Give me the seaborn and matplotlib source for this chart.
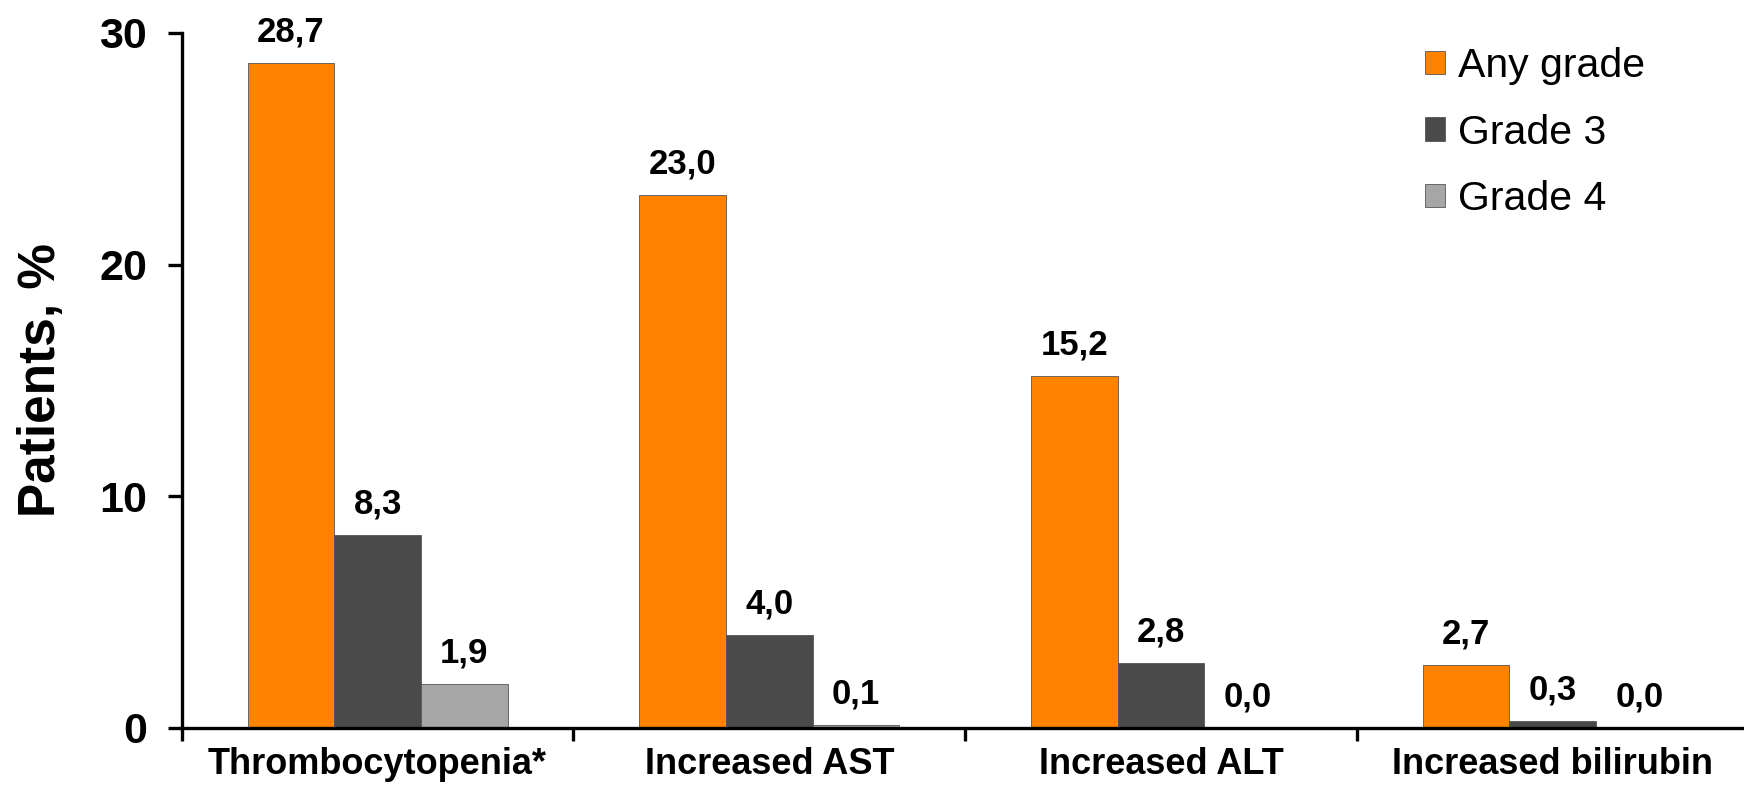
import matplotlib
matplotlib.use("Agg")
import matplotlib.pyplot as plt
import seaborn as sns
import pandas as pd
from matplotlib.ticker import FixedLocator

# Adverse events by grade
categories = ["Thrombocytopenia*", "Increased AST", "Increased ALT", "Increased bilirubin"]
grades = ["Any grade", "Grade 3", "Grade 4"]
any_grade = [28.7, 23.0, 15.2, 2.7]
grade_3 = [8.3, 4.0, 2.8, 0.3]
grade_4 = [1.9, 0.1, 0.0, 0.0]
yticks = [0, 10, 20, 30]

colors = ["#ff8300", "#4a4a4a", "#a6a6a6"]

rows = []
for g, vals in zip(grades, [any_grade, grade_3, grade_4]):
    for c, v in zip(categories, vals):
        rows.append({"category": c, "grade": g, "value": v})
df = pd.DataFrame(rows)

sns.set_style("ticks")
plt.rcParams["font.family"] = ["Liberation Sans", "DejaVu Sans"]
plt.rcParams["text.color"] = "black"
plt.rcParams["axes.labelcolor"] = "black"
plt.rcParams["xtick.color"] = "black"
plt.rcParams["ytick.color"] = "black"

fig = plt.figure(figsize=(17.44, 7.89), dpi=100)
ax = fig.add_axes([0.1042, 0.0777, 0.8958, 0.8805])

sns.barplot(data=df, x="category", y="value", hue="grade", hue_order=grades,
            order=categories, palette=colors, width=0.664, saturation=1,
            errorbar=None, edgecolor="#555555", linewidth=0.6, ax=ax)

# value labels above each bar, decimal comma
for container, vals in zip(ax.containers, [any_grade, grade_3, grade_4]):
    for bar, v in zip(container, vals):
        ax.annotate(f"{v:.1f}".replace(".", ","),
                    xy=(bar.get_x() + bar.get_width() / 2, v),
                    xytext=(0, 15.5), textcoords="offset points",
                    ha="center", va="baseline", fontsize=25, fontweight="bold",
                    color="black")

ax.set_ylim(0, 30)
ax.set_xlim(-0.5, 3.4885)
ax.set_yticks(yticks)
ax.set_yticklabels([str(t) for t in yticks], fontsize=31, fontweight="bold")
ax.set_xticks(range(len(categories)))
ax.set_xticklabels(categories, fontsize=26, fontweight="bold")
ax.xaxis.set_minor_locator(FixedLocator([-0.5, 0.5, 1.5, 2.5]))

ax.tick_params(axis="x", which="major", bottom=True, length=0, pad=14)
ax.tick_params(axis="x", which="minor", bottom=True, length=9, width=2.4,
               direction="out", color="black")
ax.tick_params(axis="y", which="major", left=True, length=10, width=2.4,
               direction="out", color="black", pad=15)
ax.tick_params(axis="y", which="minor", left=False)

for side in ["top", "right"]:
    ax.spines[side].set_visible(False)
for side in ["left", "bottom"]:
    ax.spines[side].set_linewidth(2.4)
    ax.spines[side].set_color("black")

ax.set_xlabel("")
ax.set_ylabel("Patients, %", fontsize=37, fontweight="bold", labelpad=24)

leg = ax.legend(loc="upper left", bbox_to_anchor=(1425 / 1744, 1 - 47 / 789),
                bbox_transform=fig.transFigure, frameon=False, fontsize=29.5,
                handlelength=0.5, handleheight=0.5, handletextpad=0.3,
                labelspacing=0.7, borderpad=0, borderaxespad=0)

fig.savefig("out.png", dpi=100)
